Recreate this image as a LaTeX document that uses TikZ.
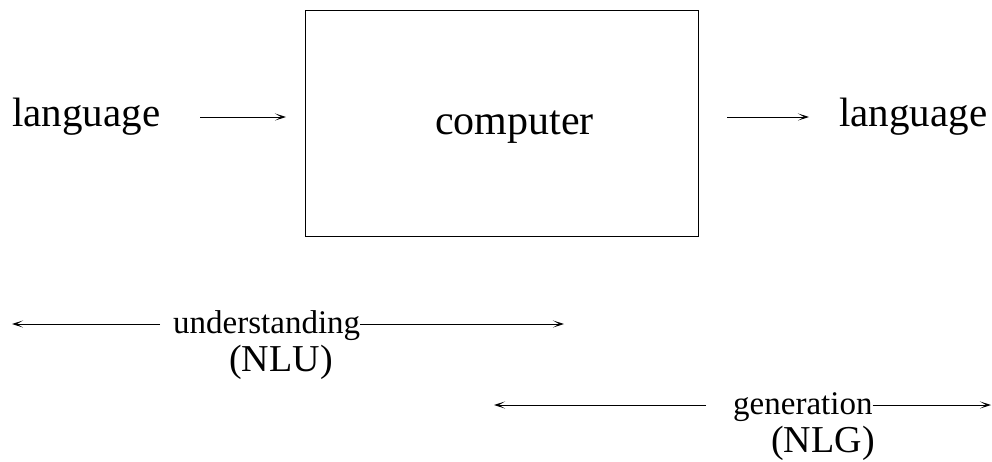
\documentclass[tikz,border=0pt]{standalone}
\usepackage{fontspec}
\setmainfont{Liberation Serif}
\usetikzlibrary{arrows.meta}
\begin{document}
\begin{tikzpicture}[x=1pt,y=-1pt,
  big/.style={font=\fontsize{42}{46}\selectfont, inner sep=0pt},
  lang/.style={font=\fontsize{41}{45}\selectfont, inner sep=0pt},
  small/.style={font=\fontsize{33}{37}\selectfont, inner sep=0pt},
  abbr/.style={font=\fontsize{38}{42}\selectfont, inner sep=0pt},
  arr/.style={line width=0.9pt, -{Stealth[length=11pt,width=7pt,inset=6pt]}}]
\useasboundingbox (0,0) rectangle (992,461);
\node[draw, line width=0.9pt, minimum width=393, minimum height=226, inner sep=0pt] (box) at (501.5,123) {};
\node[big, anchor=base] (comp) at (514.5,134) {computer};
\node[lang, anchor=base west] (lin) at (12,126) {language};
\node[lang, anchor=base west] (lout) at (839,126) {language};
\coordinate (a1s) at (200,117);
\coordinate (a1e) at (286,117);
\coordinate (a2s) at (727,117);
\coordinate (a2e) at (809,117);
\draw[arr] (a1s) -- (a1e);
\draw[arr] (a2s) -- (a2e);
% understanding
\node[small, anchor=base west] (und) at (173,333) {understanding};
\node[abbr, anchor=base] (nlu) at (281,371) {(NLU)};
\coordinate (u1) at (12,324);
\coordinate (u1s) at (160,324);
\coordinate (u2) at (564,324);
\draw[arr] (u1s) -- (u1);
\draw[arr] (und.east |- u2) -- (u2);
% generation
\node[small, anchor=base west] (gen) at (733,414) {generation};
\node[abbr, anchor=base] (nlg) at (823,452) {(NLG)};
\coordinate (g1) at (494,405);
\coordinate (g1s) at (706,405);
\coordinate (g2) at (991,405);
\draw[arr] (g1s) -- (g1);
\draw[arr] (gen.east |- g2) -- (g2);
\end{tikzpicture}
\end{document}
